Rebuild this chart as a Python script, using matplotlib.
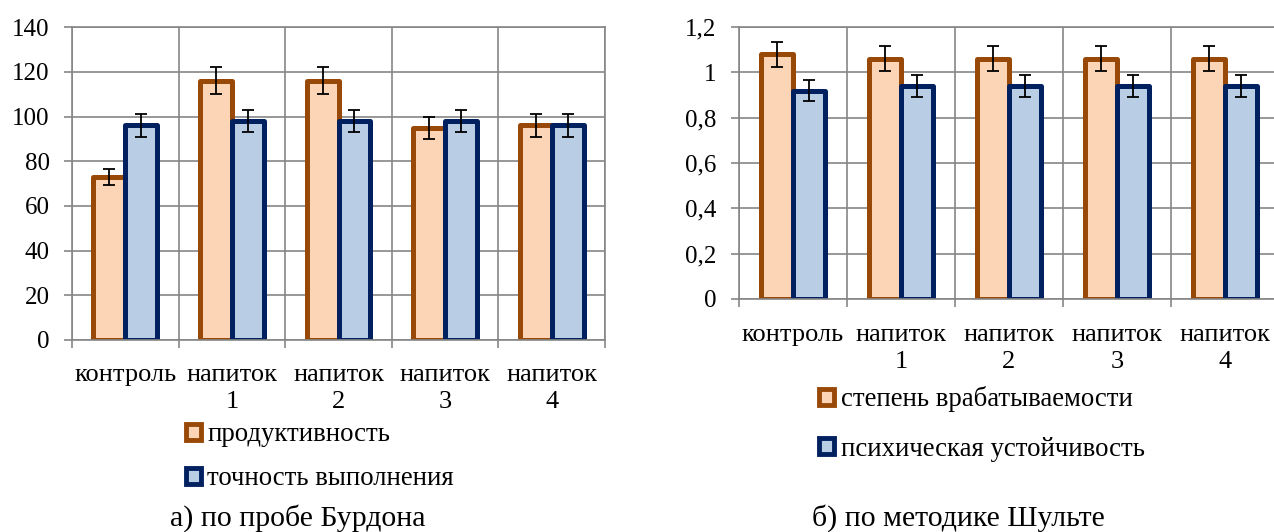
import numpy as np
import matplotlib.pyplot as plt
from matplotlib.patches import Patch

plt.rcParams['font.family'] = ['Liberation Serif', 'DejaVu Serif']
plt.rcParams['font.size'] = 18

# data
categories = ['контроль', 'напиток\n1', 'напиток\n2', 'напиток\n3', 'напиток\n4']

burdon_prod = [73, 116, 116, 95, 96]
burdon_prod_err = [3.5, 6, 6, 5, 5]
burdon_acc = [96, 98, 98, 98, 96]
burdon_acc_err = [5, 5, 5, 5, 5]

schulte_work = [1.08, 1.06, 1.06, 1.06, 1.06]
schulte_work_err = [0.055, 0.055, 0.055, 0.055, 0.055]
schulte_stab = [0.92, 0.94, 0.94, 0.94, 0.94]
schulte_stab_err = [0.045, 0.048, 0.048, 0.048, 0.048]

left_yticks = [0, 20, 40, 60, 80, 100, 120, 140]
right_yticks = [0, 0.2, 0.4, 0.6, 0.8, 1.0, 1.2]
right_ylabels = ['0', '0,2', '0,4', '0,6', '0,8', '1', '1,2']

orange_edge = '#984807'
orange_fill = '#FBD5B5'
blue_edge = '#002060'
blue_fill = '#B9CDE5'
grid_col = '#868686'

fig = plt.figure(figsize=(12.74, 5.32), dpi=100)
ax1 = fig.add_axes([0.0565, 0.361, 0.4184, 0.588])
# the right chart runs a little past the picture's right edge, as in the original
ax2 = fig.add_axes([0.580, 0.438, 0.4239, 0.511])


def draw(ax, s1, e1, s2, e2, width, yticks, ylabels, ymax, xpad):
    x = np.arange(len(categories))
    ax.set_axisbelow(True)
    ax.bar(x - width / 2, s1, width, color=orange_fill, edgecolor=orange_edge,
           linewidth=3.6, joinstyle='round', zorder=2)
    ax.bar(x + width / 2, s2, width, color=blue_fill, edgecolor=blue_edge,
           linewidth=3.6, joinstyle='round', zorder=2)
    ax.errorbar(x - width / 2, s1, yerr=e1, fmt='none', ecolor='black',
                elinewidth=1.3, capsize=4.5, capthick=1.3, zorder=3)
    ax.errorbar(x + width / 2, s2, yerr=e2, fmt='none', ecolor='black',
                elinewidth=1.3, capsize=4.5, capthick=1.3, zorder=3)
    ax.set_xlim(-0.5, len(categories) - 0.5)
    ax.set_ylim(0, ymax)
    ax.set_xticks(x)
    ax.set_xticklabels(categories, linespacing=1.3, fontsize=19)
    ax.set_xticks(np.arange(len(categories) + 1) - 0.5, minor=True)
    ax.set_yticks(yticks)
    ax.set_yticklabels(ylabels)
    ax.tick_params(axis='x', which='major', length=0, pad=xpad)
    ax.tick_params(axis='x', which='minor', length=6, width=1.2, color=grid_col)
    ax.tick_params(axis='y', length=6, width=1.2, color=grid_col, pad=10)
    ax.grid(axis='y', which='major', color=grid_col, linewidth=1.2)
    ax.grid(axis='x', which='minor', color=grid_col, linewidth=1.2)
    for sp in ax.spines.values():
        sp.set_color(grid_col)
        sp.set_linewidth(1.2)


draw(ax1, burdon_prod, burdon_prod_err, burdon_acc, burdon_acc_err, 0.3,
     left_yticks, [str(v) for v in left_yticks], 140, 17)
draw(ax2, schulte_work, schulte_work_err, schulte_stab, schulte_stab_err, 0.3,
     right_yticks, right_ylabels, 1.2, 18)

def legend(ax, labels, x, y, spacing):
    handles = [Patch(facecolor=orange_fill, edgecolor=orange_edge, linewidth=3.5),
               Patch(facecolor=blue_fill, edgecolor=blue_edge, linewidth=3.5)]
    leg = ax.legend(handles, labels, loc='upper left', bbox_to_anchor=(x, y),
                    bbox_transform=fig.transFigure, frameon=False,
                    handlelength=0.55, handleheight=0.55, handletextpad=0.25,
                    labelspacing=spacing, borderpad=0, borderaxespad=0, fontsize=19.3)
    return leg

legend(ax1, ['продуктивность', 'точность выполнения'], 0.146, 0.206, 0.7)
legend(ax2, ['степень врабатываемости', 'психическая устойчивость'], 0.643, 0.274, 0.92)

fig.text(0.234, 0.012, 'а) по пробе Бурдона', ha='center', fontsize=21.5)
fig.text(0.752, 0.012, 'б) по методике Шульте', ha='center', fontsize=21.5)

fig.savefig('out.png', dpi=100)
